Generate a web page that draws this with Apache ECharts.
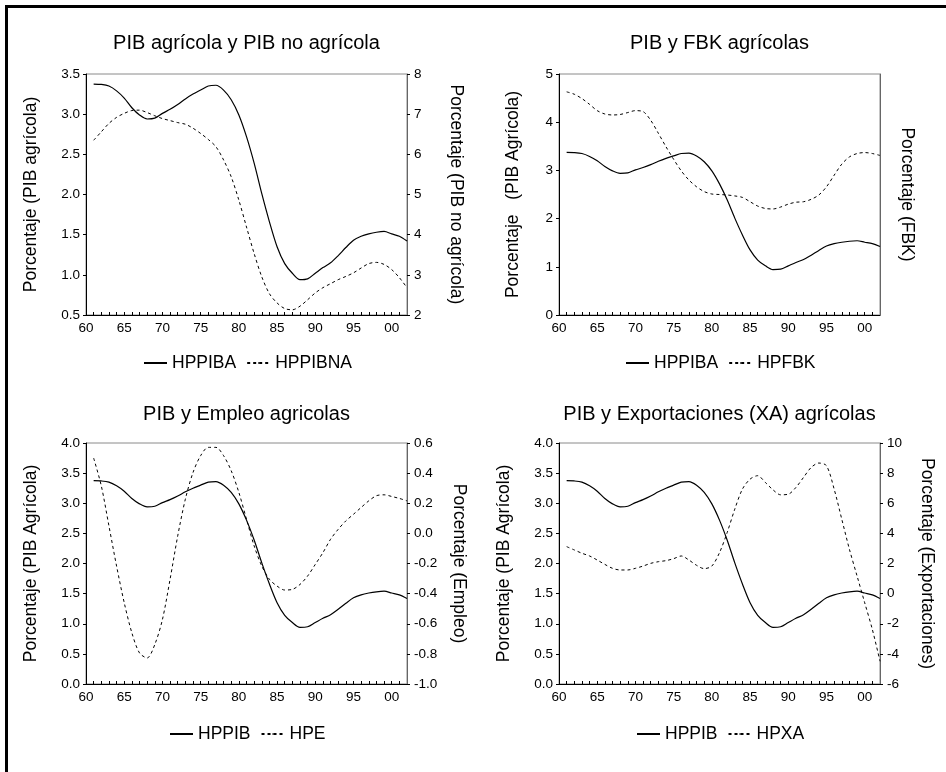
<!DOCTYPE html>
<html><head><meta charset="utf-8">
<script src="https://cdn.jsdelivr.net/npm/echarts@6/dist/echarts.min.js"></script>
<style>html,body{margin:0;padding:0;background:#fff}#c{width:946px;height:772px}</style>
</head><body><div id="c"></div>
<script>
const years = [1961,1962,1963,1964,1965,1966,1967,1968,1969,1970,1971,1972,1973,1974,1975,1976,1977,1978,1979,1980,1981,1982,1983,1984,1985,1986,1987,1988,1989,1990,1991,1992,1993,1994,1995,1996,1997,1998,1999,2000,2001,2002];
const hppib = [3.375,3.37,3.35,3.29,3.20,3.08,2.99,2.94,2.95,3.01,3.06,3.12,3.19,3.25,3.30,3.35,3.36,3.30,3.18,2.99,2.72,2.39,2.01,1.66,1.35,1.14,1.02,0.94,0.95,1.02,1.09,1.15,1.24,1.34,1.43,1.48,1.51,1.53,1.54,1.51,1.48,1.42];
const hppibna = [6.35,6.56,6.77,6.92,7.02,7.09,7.10,7.04,6.96,6.89,6.84,6.79,6.75,6.65,6.52,6.37,6.19,5.86,5.44,4.86,4.19,3.53,2.95,2.53,2.30,2.16,2.13,2.22,2.38,2.55,2.68,2.78,2.88,2.96,3.05,3.17,3.28,3.31,3.26,3.13,2.93,2.68];
const hpfbk = [4.63,4.58,4.49,4.37,4.24,4.17,4.15,4.16,4.20,4.24,4.22,4.04,3.77,3.49,3.23,2.99,2.80,2.66,2.56,2.51,2.50,2.49,2.47,2.44,2.35,2.26,2.21,2.20,2.24,2.30,2.34,2.35,2.40,2.49,2.66,2.90,3.13,3.28,3.35,3.37,3.35,3.31];
const hpe = [0.50,0.316,0.05,-0.217,-0.46,-0.66,-0.794,-0.827,-0.738,-0.572,-0.305,-0.017,0.227,0.404,0.516,0.571,0.571,0.516,0.416,0.272,0.094,-0.083,-0.217,-0.305,-0.35,-0.376,-0.372,-0.339,-0.283,-0.206,-0.128,-0.039,0.027,0.083,0.127,0.172,0.216,0.25,0.256,0.245,0.232,0.216];
const hpxa = [3.12,2.90,2.68,2.50,2.23,1.94,1.68,1.57,1.57,1.68,1.83,2.01,2.12,2.19,2.32,2.50,2.23,1.88,1.66,1.83,2.72,4.05,5.61,6.94,7.60,7.83,7.38,6.89,6.56,6.60,7.05,7.72,8.38,8.67,8.49,6.94,4.94,2.94,1.17,-0.61,-2.38,-4.49];

const titles = ['PIB agrícola y PIB no agrícola','PIB y FBK agrícolas','PIB y Empleo agricolas','PIB y Exportaciones (XA) agrícolas'];
const leftNames = ['Porcentaje (PIB agrícola)','Porcentaje   (PIB Agrícola)','Porcentaje (PIB Agrícola)','Porcentaje (PIB Agrícola)'];
const rightNames = ['Porcentaje (PIB no agrícola)','Porcentaje (FBK)','Porcentaje (Empleo)','Porcentaje (Exportaciones)'];
const legendNames = [['HPPIBA','HPPIBNA'],['HPPIBA','HPFBK'],['HPPIB','HPE'],['HPPIB','HPXA']];
const leftScale = [[0.5,3.5,0.5,1],[0,5,1,0],[0,4,0.5,1],[0,4,0.5,1]];
const rightScale = [[2,8,1,0],[0,5,1,0],[-1,0.6,0.2,1],[-6,10,2,0]];
const secondSeries = [hppibna,hpfbk,hpe,hpxa];

const FONT = 'Liberation Sans, Arial, sans-serif';
const grids = [
  {left:86, top:74, width:321, height:241},
  {left:559, top:74, width:321, height:241},
  {left:86, top:443, width:321, height:241},
  {left:559, top:443, width:321, height:241}
];
const leftGap = [46,37,46,46];
const rightGap = [40,18,43,38];
const titleOff = [41,41,39,39];
const legendOff = [39,39,41,41];

const LEG_FS = 17.5, LEG_IW = 23, LEG_GAP = 10;
const mctx = document.createElement('canvas').getContext('2d');
mctx.font = LEG_FS + 'px ' + FONT;
function legendWidth(names){
  let w = 0;
  names.forEach((n,k)=>{ w += LEG_IW + 5 + mctx.measureText(n).width; if(k) w += LEG_GAP; });
  return w;
}

function pairs(v){ return years.map((y,i)=>[y,v[i]]); }

const option = {
  animation:false,
  backgroundColor:'#fff',
  title:[], legend:[], grid:[], xAxis:[], yAxis:[], series:[],
  graphic:[
    {type:'rect', shape:{x:5,y:5,width:942,height:3}, style:{fill:'#000'}},
    {type:'rect', shape:{x:5,y:5,width:3,height:770}, style:{fill:'#000'}}
  ]
};

grids.forEach((g,i)=>{
  const cx = g.left + g.width/2;
  option.grid.push({left:g.left, top:g.top, width:g.width, height:g.height, show:true, borderColor:'#8a8a8a', borderWidth:1, containLabel:false});
  option.title.push({text:titles[i], left:cx, top:g.top-titleOff[i], textAlign:'center', padding:0,
    textStyle:{fontFamily:FONT, fontSize:20, fontWeight:'normal', color:'#000'}});
  option.legend.push({data:legendNames[i], left:Math.round(cx - legendWidth(legendNames[i])/2), top:g.top+g.height+legendOff[i], padding:0,
    itemWidth:LEG_IW, itemHeight:2, itemGap:LEG_GAP,
    textStyle:{fontFamily:FONT, fontSize:LEG_FS, color:'#000'}});
  option.xAxis.push({type:'value', gridIndex:i, min:1960, max:2002, interval:1,
    axisLine:{show:true, onZero:false, lineStyle:{color:'#000', width:1}},
    axisTick:{show:true, inside:true, length:3, lineStyle:{color:'#000'}},
    splitLine:{show:false},
    axisLabel:{fontFamily:FONT, fontSize:13.5, color:'#000', margin:6, showMaxLabel:false,
      formatter:v=> (v%5===0 && v<2002) ? String(v%100).padStart(2,'0') : ''}
  });
  const ls = leftScale[i], rs = rightScale[i];
  option.yAxis.push({type:'value', gridIndex:i, position:'left', min:ls[0], max:ls[1], interval:ls[2],
    name:leftNames[i], nameLocation:'middle', nameRotate:90, nameGap:leftGap[i],
    nameTextStyle:{fontFamily:FONT, fontSize:17.5, color:'#000'},
    axisLine:{show:true, lineStyle:{color:'#000'}},
    axisTick:{show:true, length:3, lineStyle:{color:'#000'}},
    splitLine:{show:false},
    axisLabel:{fontFamily:FONT, fontSize:13.5, color:'#000', margin:6, padding:[0,0,4,0],
      formatter:v=>v.toFixed(ls[3])}
  });
  const showR = i!==1;
  option.yAxis.push({type:'value', gridIndex:i, position:'right', min:rs[0], max:rs[1], interval:rs[2],
    name:rightNames[i], nameLocation:'middle', nameRotate:-90, nameGap:rightGap[i],
    nameTextStyle:{fontFamily:FONT, fontSize:17.5, color:'#000'},
    axisLine:{show:true, lineStyle:{color:'#666'}},
    axisTick:{show:showR, length:3, lineStyle:{color:'#000'}},
    splitLine:{show:false},
    axisLabel:{show:showR, fontFamily:FONT, fontSize:13.5, color:'#000', margin:7, padding:[0,0,4,0],
      formatter:v=>v.toFixed(rs[3])}
  });
  option.series.push({type:'line', name:legendNames[i][0], xAxisIndex:i, yAxisIndex:2*i,
    data:pairs(hppib), symbol:'none', smooth:0.3,
    lineStyle:{color:'#000', width:1.2, type:'solid'}, itemStyle:{color:'#000'}});
  option.series.push({type:'line', name:legendNames[i][1], xAxisIndex:i, yAxisIndex:2*i+1,
    data:pairs(secondSeries[i]), symbol:'none', smooth:0.3,
    lineStyle:{color:'#000', width:1, type:[3,3]}, itemStyle:{color:'#000'}});
});

const chart = echarts.init(document.getElementById('c'), null, {renderer:'canvas'});
chart.setOption(option);
</script>
</body></html>
